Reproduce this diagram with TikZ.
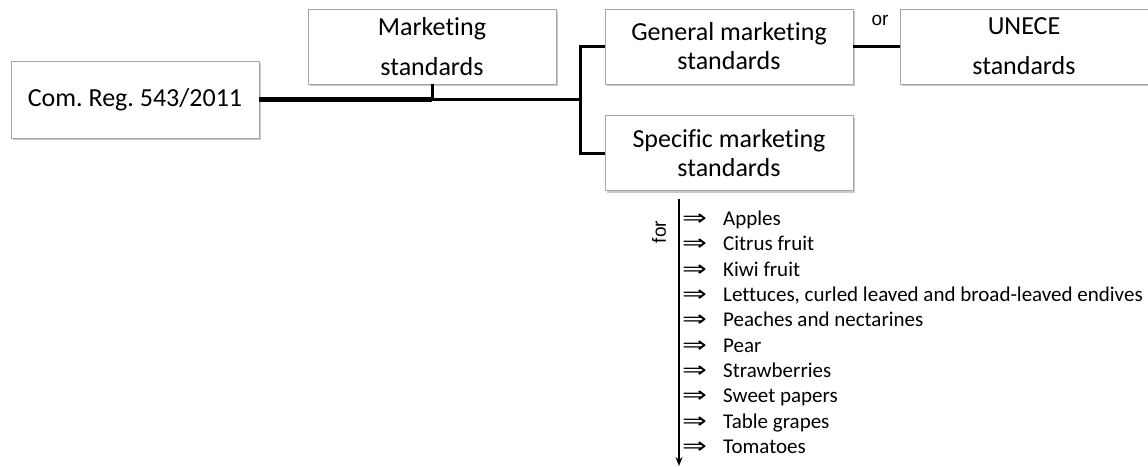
\documentclass[tikz,border=0pt]{standalone}
\usepackage{fontspec}
\usepackage{graphicx}
\setmainfont{Carlito}[Ligatures=NoCommon]
\newfontfamily\arialf{Liberation Sans}
\newfontfamily\symf{DejaVu Sans}
\usetikzlibrary{shadows,arrows.meta}
\begin{document}
\frenchspacing
\begin{tikzpicture}[x=1pt,y=-1pt,
  box/.style={draw=black!35, line width=0.8pt, fill=white, rectangle, inner sep=0pt,
    minimum width=248pt, minimum height=75pt, align=center,
    font=\fontsize{26}{29}\selectfont,
    drop shadow={shadow xshift=2pt, shadow yshift=-2pt, opacity=0.35, fill=black!60}},
  thick line/.style={line width=4.5pt},
  mid line/.style={line width=3pt},
  item/.style={anchor=base west, inner sep=0pt, font=\fontsize{21}{25}\selectfont},
  small/.style={inner sep=0pt, font=\arialf\fontsize{19}{22}\selectfont}
]
\useasboundingbox (0,0) rectangle (1148,466);

\node[box, minimum height=77pt] (com) at (135,99.5) {Com. Reg. 543/2011};
\node[box] (mk) at (432,46.5) {Marketing\\[11pt]standards};
\node[box] (gen) at (729,46.5) {General marketing\\standards};
\node[box] (une) at (1024,46.5) {UNECE\\[11pt]standards};
\node[box] (spec) at (729,153) {Specific marketing\\standards};

\coordinate (stub) at (432,99.5);
\coordinate (brk) at (580.5,99.5);
\draw[thick line] (com.east) -- (stub);
\draw[mid line] (mk.south) -- (stub);
\draw[mid line] (stub) -- (brk);
\draw[mid line] (gen.west) -| (brk) |- (spec.west);
\draw[mid line] (gen.east) -- (une.west);
\node[small] (or) at (880,20) {or};

\coordinate (atop) at (679,199);
\coordinate (abot) at (679,466);
\draw[line width=1.6pt, -{Stealth[length=9pt,width=7pt]}] (atop) -- (abot);
\node[small, rotate=90] (for) at (659,232) {for};

\foreach \t [count=\i from 0] in {Apples, Citrus fruit, Kiwi fruit,
  {Lettuces, curled leaved and broad-leaved endives}, Peaches and nectarines,
  Pear, Strawberries, Sweet papers, Table grapes, Tomatoes}{
  \node[item] (it\i) at (682,225.7+25.29*\i) {\makebox[41pt][l]{\scalebox{1.35}[1]{\symf\fontsize{22}{25}\selectfont ⇒}}\t};
}
\end{tikzpicture}
\end{document}
